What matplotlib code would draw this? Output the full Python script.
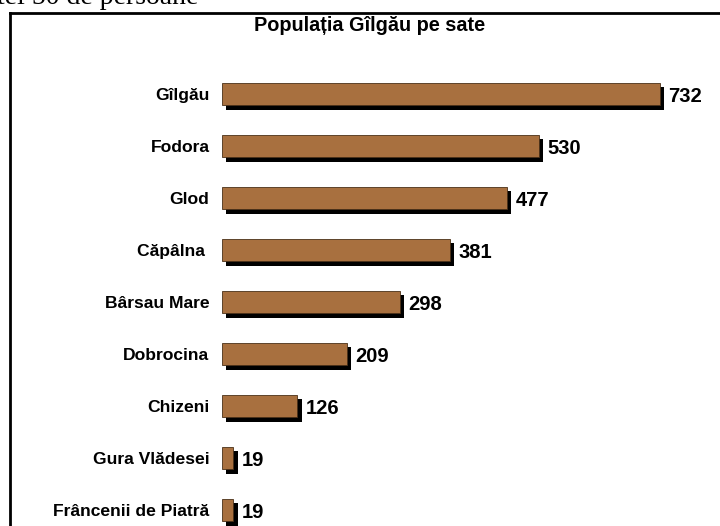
import numpy as np
import matplotlib
matplotlib.use("Agg")
import matplotlib.pyplot as plt
import matplotlib.patheffects as pe
from matplotlib.lines import Line2D

plt.rcParams['font.family'] = ['Liberation Sans', 'DejaVu Sans']

# data
villages = ['Gîlgău', 'Fodora', 'Glod', 'Căpâlna ', 'Bârsau Mare', 'Dobrocina',
            'Chizeni', 'Gura Vlădesei', 'Frâncenii de Piatră']
population = [732, 530, 477, 381, 298, 209, 126, 19, 19]
title = 'Populația Gîlgău pe sate'
page_text = 'tei 50 de persoane'

W, H = 720, 526
fig = plt.figure(figsize=(W / 100, H / 100), dpi=100)
fig.patch.set_facecolor('white')

# bit of page text cut at the top
fig.text(-3 / W, 1 - 4 / H, page_text, family='Liberation Serif', fontsize=20,
         ha='left', va='baseline')

# frame of the embedded chart
fig.add_artist(Line2D([10 / W, 10 / W], [1 - 13 / H, 0], transform=fig.transFigure,
                      color='black', lw=2, solid_capstyle='projecting'))
fig.add_artist(Line2D([10 / W, 1], [1 - 13 / H, 1 - 13 / H], transform=fig.transFigure,
                      color='black', lw=2, solid_capstyle='projecting'))

fig.text(370 / W, 1 - 31 / H, title, fontsize=14.3, fontweight='bold',
         ha='center', va='baseline')

ax = fig.add_axes([222 / W, (H - 536) / H, 498 / W, 468 / H])
ax.patch.set_alpha(0)
y = np.arange(len(villages))
shadow = [pe.SimplePatchShadow(offset=(3, -3), shadow_rgbFace='black', alpha=1), pe.Normal()]
bars = ax.barh(y, population, height=0.44, color='#A8703F', edgecolor='#4a3018', lw=0.6)
for b in bars:
    b.set_path_effects(shadow)

for yi, v in zip(y, population):
    ax.annotate(str(v), (v, yi), xytext=(6, -1.5), textcoords='offset points',
                ha='left', va='center', fontsize=14.5, fontweight='bold',
                annotation_clip=False)

ax.set_xlim(0, 498 / 0.598)
ax.set_ylim(len(villages) - 0.5, -0.5)
ax.set_yticks(y, villages, fontsize=12.6, fontweight='bold')
ax.tick_params(axis='y', length=0, pad=9)
ax.set_xticks([])
for s in ax.spines.values():
    s.set_visible(False)

fig.savefig('out.png', dpi=100)
